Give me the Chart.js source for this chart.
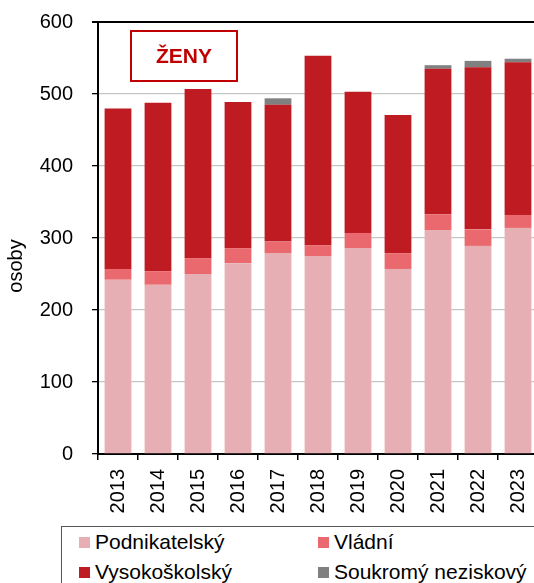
<!DOCTYPE html>
<html>
<head>
<meta charset="utf-8">
<script src="https://cdn.jsdelivr.net/npm/chart.js@4"></script>
<style>
  html, body { margin: 0; padding: 0; background: #fff; overflow: hidden; }
  body { width: 534px; height: 583px; position: relative; font-family: "Liberation Sans", Arial, sans-serif; }
  #wrap { position: absolute; left: 0; top: 0; width: 540px; height: 522px; }
  #title-box {
    position: absolute; left: 130px; top: 30px; width: 104px; height: 48px;
    border: 2.5px solid #c00000; color: #c00000; font-weight: bold; font-size: 21px;
    display: flex; align-items: center; justify-content: center;
  }
  #legend {
    position: absolute; left: 61px; top: 526px; width: 500px; height: 80px;
    border: 1px solid #555; box-sizing: border-box;
  }
  .item { position: absolute; font-size: 21px; color: #000; line-height: 24px; white-space: nowrap; }
  .item span.sw { display: inline-block; width: 11px; height: 11px; margin-right: 5px; vertical-align: 1px; }
</style>
</head>
<body>
<div id="wrap"><canvas id="chart"></canvas></div>
<div id="title-box">ŽENY</div>
<div id="legend"></div>
<script>
const years = ["2013", "2014", "2015", "2016", "2017", "2018", "2019", "2020", "2021", "2022", "2023"]
const podnikatelsky = [242, 235, 250, 265, 279, 275, 286, 257, 311, 289, 314]
const vladni = [15, 19, 22, 21, 16, 15, 21, 22, 22, 23, 18]
const vysokoskolsky = [223, 234, 235, 203, 190, 263, 196, 192, 202, 225, 212]
const soukromy = [0, 0, 0, 0, 9, 0, 0, 0, 5, 9, 5]
const yTicks = [0, 100, 200, 300, 400, 500, 600]

const names = ["Podnikatelský", "Vládní", "Vysokoškolský", "Soukromý neziskový"]
const colors = ["#e6afb3", "#e9696f", "#be1b23", "#808080"]
const series = [podnikatelsky, vladni, vysokoskolsky, soukromy]

const FONT = "'Liberation Sans', Arial, sans-serif"

// y axis title drawn by hand so it sits where the original has it
const axisTitle = {
    id: 'axisTitle',
    afterDraw(chart) {
        const c = chart.ctx
        c.save()
        c.translate(16, 266)
        c.rotate(-Math.PI / 2)
        c.font = "20px " + FONT
        c.fillStyle = "#000"
        c.textAlign = "center"
        c.textBaseline = "middle"
        c.fillText("osoby", 0, 0)
        c.restore()
    }
}

const datasets = series.map((data, i) => {
    return {
        label: names[i], data: data, backgroundColor: colors[i],
        borderWidth: 0, categoryPercentage: 1, barPercentage: 0.67
    }
})

const config = {
    type: 'bar',
    data: { labels: years, datasets: datasets },
    options: {
        animation: false,
        responsive: true,
        maintainAspectRatio: false,
        layout: { padding: { top: 22, right: 2, left: 0, bottom: 0 } },
        plugins: { legend: { display: false }, tooltip: { enabled: false } },
        scales: {
            x: {
                stacked: true,
                // the plot runs off the right edge, like the original
                afterFit: (scale) => { scale.height = 68; scale.paddingTop = 0; scale.paddingLeft = 0; scale.paddingRight = 0 },
                border: { color: "#000", width: 2 },
                grid: { offset: true, drawOnChartArea: false, color: "#000", tickLength: 6, lineWidth: 1.5 },
                ticks: { color: "#000", font: { family: FONT, size: 20 }, minRotation: 90, maxRotation: 90, padding: 9 }
            },
            y: {
                stacked: true,
                min: 0, max: 600,
                afterFit: (scale) => { scale.width = 98; scale.paddingTop = 0; scale.paddingBottom = 0 },
                afterBuildTicks: (scale) => { scale.ticks = yTicks.map(v => ({ value: v })) },
                border: { color: "#000", width: 2 },
                grid: {
                    color: (ctx) => ctx.tick && ctx.tick.value === 600 ? "#000" : "#c6c6c6",
                    lineWidth: (ctx) => ctx.tick && ctx.tick.value === 600 ? 2 : 1.3,
                    tickColor: "#000", tickLength: 6
                },
                ticks: { color: "#000", font: { family: FONT, size: 20 }, padding: 19 }
            }
        }
    },
    plugins: [axisTitle]
}

new Chart(document.getElementById("chart"), config)

// legend box
const legendPos = [[17, 3], [256, 3], [17, 33], [256, 33]]
const legend = document.getElementById("legend")
names.forEach((name, i) => {
    const el = document.createElement("div")
    el.className = "item"
    el.style.left = legendPos[i][0] + "px"
    el.style.top = legendPos[i][1] + "px"
    el.innerHTML = `<span class="sw" style="background:${colors[i]}"></span>${name}`
    legend.appendChild(el)
})
</script>
</body>
</html>
